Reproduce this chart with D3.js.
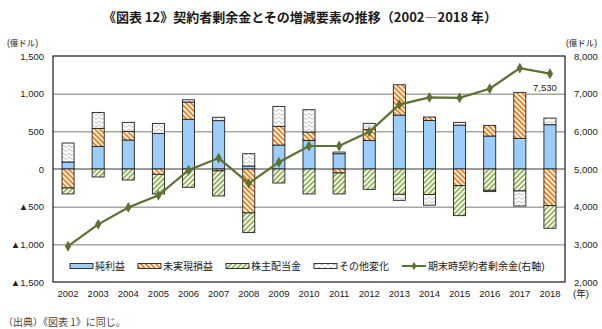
<!DOCTYPE html>
<meta charset="utf-8">
<title>契約者剰余金とその増減要素の推移</title>
<head>
    <script src="https://cdn.jsdelivr.net/npm/d3@7"></script>
</head>
<body style="margin: 0px">
<script>

    var years = [2002, 2003, 2004, 2005, 2006, 2007, 2008, 2009, 2010, 2011, 2012, 2013, 2014, 2015, 2016, 2017, 2018];
    // 億ドル, left axis
    var netIncome   = [93, 300, 385, 473, 660, 642, 40, 318, 380, 203, 380, 716, 645, 583, 438, 407, 588];
    var unrealized  = [-252, 239, 114, -71, 229, -25, -583, 248, 111, -53, 146, 402, 45, -221, 141, 610, -486];
    var dividends   = [-79, -106, -146, -260, -243, -333, -261, -186, -331, -278, -270, -336, -338, -398, -283, -292, -301];
    var otherChange = [252, 212, 120, 132, 30, 45, 163, 265, 296, 22, 80, -80, -142, 36, -17, -199, 88];
    // 億ドル, right axis
    var balance = [2950, 3530, 3980, 4300, 4970, 5290, 4620, 5180, 5610, 5610, 5990, 6710, 6900, 6890, 7130, 7680, 7530];

    var leftTicks = [1500, 1000, 500, 0, -500, -1000, -1500];
    var rightTicks = [8000, 7000, 6000, 5000, 4000, 3000, 2000];
    var seriesNames = ["純利益", "未実現損益", "株主配当金", "その他変化"];
    var lineName = "期末時契約者剰余金(右軸)";

    var width = 602, height = 329;
    var plot = {left: 53, right: 565, top: 56, bottom: 282};
    var latin = "'Liberation Sans', Arial, sans-serif";
    var cjk = "'Liberation Sans', 'Noto Sans CJK JP', sans-serif";

    var svg = d3.select("body").append("svg")
            .attr("width", width)
            .attr("height", height)
            .style("display", "block");

    var x = d3.scaleBand().domain(years).range([plot.left, plot.right])
            .paddingInner(0.6).paddingOuter(0.3);
    var y = d3.scaleLinear().domain([-1500, 1500]).range([plot.bottom, plot.top]);
    var y2 = d3.scaleLinear().domain([2000, 8000]).range([plot.bottom, plot.top]);

    // fills
    var defs = svg.append("defs");
    function stripes(id, color, angle) {
        var p = defs.append("pattern").attr("id", id)
                .attr("patternUnits", "userSpaceOnUse")
                .attr("width", 3.6).attr("height", 3.6)
                .attr("patternTransform", "rotate(" + angle + ")");
        p.append("rect").attr("width", 3.6).attr("height", 3.6).attr("fill", "#fff");
        p.append("rect").attr("width", 1.9).attr("height", 3.6).attr("fill", color);
    }
    stripes("hatchOrange", "#f27f1b", -45);
    stripes("hatchGreen", "#93b55a", 45);
    var zz = defs.append("pattern").attr("id", "zigzag")
            .attr("patternUnits", "userSpaceOnUse")
            .attr("width", 6).attr("height", 4);
    zz.append("rect").attr("width", 6).attr("height", 4).attr("fill", "#fff");
    zz.append("path").attr("d", "M0,3.4L3,1L6,3.4")
            .attr("fill", "none").attr("stroke", "#b8b8b8").attr("stroke-width", 0.9);

    var fills = ["#9dcdfb", "url(#hatchOrange)", "url(#hatchGreen)", "url(#zigzag)"];

    // gridlines
    svg.append("g")
            .attr("transform", "translate(" + plot.left + ",0)")
            .call(d3.axisLeft(y).tickValues([1000, 500, -500, -1000]).tickSize(-(plot.right - plot.left)).tickFormat(""))
            .call(function (g) { g.select(".domain").remove(); })
            .selectAll("line").attr("stroke", "#a6a6a6").attr("stroke-width", 1.5);

    svg.append("line")
            .attr("x1", plot.left).attr("x2", plot.right)
            .attr("y1", y(0)).attr("y2", y(0))
            .attr("stroke", "#3a3a3a").attr("stroke-width", 1);

    // stacked bars
    var table = years.map(function (yr, i) {
        return {year: yr, s0: netIncome[i], s1: unrealized[i], s2: dividends[i], s3: otherChange[i]};
    });
    var keys = ["s0", "s1", "s2", "s3"];
    var stacked = d3.stack().keys(keys).offset(d3.stackOffsetDiverging)(table);

    svg.append("g").selectAll("g").data(stacked).join("g")
            .attr("fill", function (d, i) { return fills[i]; })
            .selectAll("rect").data(function (d) { return d; }).join("rect")
            .filter(function (d) { return d[1] !== d[0]; })
            .attr("x", function (d) { return x(d.data.year); })
            .attr("width", x.bandwidth())
            .attr("y", function (d) { return y(Math.max(d[0], d[1])); })
            .attr("height", function (d) { return Math.abs(y(d[0]) - y(d[1])); })
            .attr("stroke", "#222")
            .attr("stroke-width", 0.9);

    // balance line, right axis
    var cx = function (i) { return x(years[i]) + x.bandwidth() / 2; };
    svg.append("path")
            .datum(balance)
            .attr("fill", "none")
            .attr("stroke", "#5b7232")
            .attr("stroke-width", 2.2)
            .attr("d", d3.line().x(function (d, i) { return cx(i); }).y(function (d) { return y2(d); }));
    svg.append("g").selectAll("path").data(balance).join("path")
            .attr("transform", function (d, i) { return "translate(" + cx(i) + "," + y2(d) + ")"; })
            .attr("d", d3.symbol(d3.symbolDiamond, 34))
            .attr("fill", "#5b7232");

    svg.append("text")
            .attr("x", cx(balance.length - 1) - 5).attr("y", y2(balance[balance.length - 1]) + 17)
            .attr("text-anchor", "middle")
            .style("font", "9.5px " + latin).attr("fill", "#222")
            .text(d3.format(",")(balance[balance.length - 1]));

    // frame
    svg.append("rect")
            .attr("x", plot.left).attr("y", plot.top)
            .attr("width", plot.right - plot.left).attr("height", plot.bottom - plot.top)
            .attr("fill", "none").attr("stroke", "#1a1a1a").attr("stroke-width", 1.2);

    // axes labels
    var leftFmt = function (d) { return (d < 0 ? "▲" : "") + d3.format(",")(Math.abs(d)); };
    var ax = svg.append("g")
            .attr("transform", "translate(" + plot.left + ",0)")
            .call(d3.axisLeft(y).tickValues(leftTicks).tickSize(0).tickPadding(9).tickFormat(leftFmt));
    var ax2 = svg.append("g")
            .attr("transform", "translate(" + plot.right + ",0)")
            .call(d3.axisRight(y2).tickValues(rightTicks).tickSize(0).tickPadding(9).tickFormat(d3.format(",")));
    var axx = svg.append("g")
            .attr("transform", "translate(0," + plot.bottom + ")")
            .call(d3.axisBottom(x).tickSize(0).tickPadding(8));
    [ax, ax2, axx].forEach(function (g) {
        g.select(".domain").remove();
        g.selectAll("text").style("font", "9.5px " + cjk).attr("fill", "#222");
    });

    // legend
    var legend = svg.append("g").attr("transform", "translate(70,266)");
    var lx = 0;
    seriesNames.forEach(function (name, i) {
        legend.append("rect")
                .attr("x", lx).attr("y", -2.5).attr("width", 23).attr("height", 5)
                .attr("fill", fills[i]).attr("stroke", "#222").attr("stroke-width", 0.9);
        var t = legend.append("text")
                .attr("x", lx + 25).attr("y", 0).attr("dy", "0.35em")
                .style("font", "10px " + cjk).attr("fill", "#222")
                .text(name);
        lx += 25 + t.node().getComputedTextLength() + 13;
    });
    legend.append("line")
            .attr("x1", lx).attr("x2", lx + 24).attr("y1", 0).attr("y2", 0)
            .attr("stroke", "#5b7232").attr("stroke-width", 2);
    legend.append("path")
            .attr("transform", "translate(" + (lx + 12) + ",0)")
            .attr("d", d3.symbol(d3.symbolDiamond, 20)).attr("fill", "#5b7232");
    legend.append("text")
            .attr("x", lx + 26).attr("y", 0).attr("dy", "0.35em")
            .style("font", "10px " + cjk).attr("fill", "#222")
            .text(lineName);

    // titles and notes
    svg.append("text")
            .attr("x", 300).attr("y", 22)
            .attr("text-anchor", "middle")
            .style("font", "bold 13px 'Noto Sans CJK JP', sans-serif").attr("fill", "#1a1a1a")
            .text("《図表 12》契約者剰余金とその増減要素の推移（2002―2018 年）");
    svg.append("text").attr("x", 7).attr("y", 46)
            .style("font", "8.5px " + cjk).attr("fill", "#222").text("(億ドル)");
    svg.append("text").attr("x", 566).attr("y", 46)
            .style("font", "8.5px " + cjk).attr("fill", "#222").text("(億ドル)");
    svg.append("text").attr("x", 573).attr("y", 297)
            .style("font", "9.5px " + cjk).attr("fill", "#222").text("(年)");
    svg.append("text").attr("x", 3).attr("y", 326)
            .style("font", "10px 'Noto Sans CJK JP', sans-serif").attr("fill", "#444")
            .text("（出典）《図表 1》に同じ。");

</script>
